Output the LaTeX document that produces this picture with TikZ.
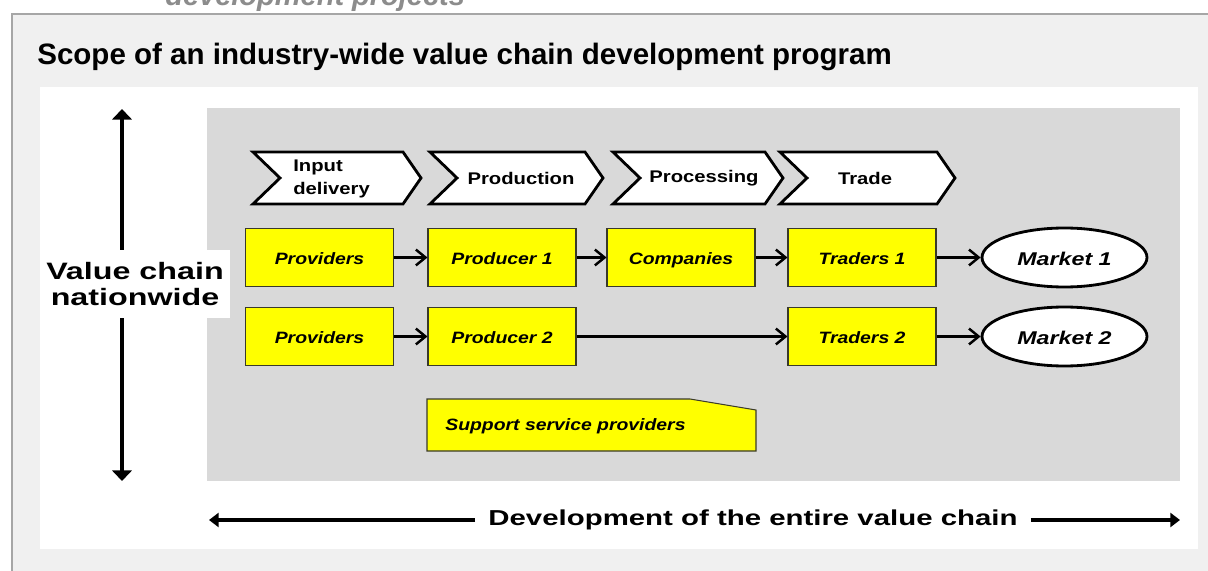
\documentclass[tikz,border=0pt]{standalone}
\usepackage{fontspec}
\setmainfont{Liberation Sans}
\newfontfamily\boxfont[FakeStretch=1.18]{Liberation Sans}
\newfontfamily\mktfont[FakeStretch=1.26]{Liberation Sans}
\newfontfamily\chevfont[FakeStretch=1.2]{Liberation Sans}
\newfontfamily\widefont[FakeStretch=1.36]{Liberation Sans}
\usetikzlibrary{arrows.meta,shapes.geometric}
\definecolor{outerbg}{HTML}{F0F0F0}
\definecolor{panelgray}{HTML}{D9D9D9}
\definecolor{frameline}{HTML}{A6A6A6}
\definecolor{toptext}{HTML}{8C8C8C}
\definecolor{boxyellow}{HTML}{FFFF00}
\definecolor{boxedge}{HTML}{3A3A2A}
\tikzset{
 ybox/.style={draw=boxedge, line width=0.6pt, fill=boxyellow, minimum width=2.96cm, minimum height=1.16cm, inner sep=0pt, text height=8pt, text depth=0pt, font=\boxfont\bfseries\itshape\fontsize{9.35}{11}\selectfont},
 mkt/.style={ellipse, draw=black, line width=1.6pt, fill=white, minimum width=3.3cm, minimum height=1.18cm, inner sep=0pt, text height=8.6pt, text depth=0pt, font=\mktfont\bfseries\itshape\fontsize{10.5}{12}\selectfont},
 chev/.style={draw=black, line width=1.6pt, fill=white, line join=miter},
 chevtext/.style={font=\chevfont\bfseries\fontsize{9.6}{13}\selectfont, inner sep=0pt},
 flow/.style={line width=1.4pt, -{Straight Barb[length=5.5pt, width=9pt, line width=1.4pt]}},
 vaxis/.style={line width=1.8pt, {Triangle[length=6pt, width=11pt]}-{Triangle[length=6pt, width=11pt]}},
 haxis/.style={line width=1.8pt, -{Triangle[length=5.5pt, width=8pt]}},
 vctext/.style={font=\widefont\bfseries\fontsize{13.5}{15.2}\selectfont},
 devtext/.style={font=\widefont\bfseries\fontsize{12.3}{14}\selectfont},
}
\begin{document}
\begin{tikzpicture}[x=0.02cm,y=-0.02cm]
\useasboundingbox (0,0) rectangle (1208,571);
\clip (0,0) rectangle (1208,571);
\fill[white] (0,0) rectangle (1208,571);
\node[anchor=base west, text=toptext, inner sep=0pt, font=\bfseries\itshape\fontsize{16.5}{20}\selectfont] (sub) at (165,6) {development projects};
% frame
\fill[outerbg] (12,14) rectangle (1208,571);
\draw[frameline, line width=0.8pt] (12,571) -- (12,14) -- (1208,14);
\node[anchor=base west, inner sep=0pt, font=\bfseries\fontsize{16.8}{20}\selectfont] (title) at (37,65) {Scope of an industry-wide value chain development program};
% panels
\fill[white] (40,87) rectangle (1198,549);
\fill[panelgray] (207,108) rectangle (1180,481);
% chevrons
\filldraw[chev] (253,152) -- (403,152) -- (421,178) -- (403,204) -- (253,204) -- (280,178) -- cycle;
\filldraw[chev] (430,152) -- (585,152) -- (603,178) -- (585,204) -- (430,204) -- (457,178) -- cycle;
\filldraw[chev] (613,152) -- (765,152) -- (783,178) -- (765,204) -- (613,204) -- (640,178) -- cycle;
\filldraw[chev] (780,152) -- (937,152) -- (955,178) -- (937,204) -- (780,204) -- (807,178) -- cycle;
\node[chevtext, anchor=west, align=left] (c1) at (293,179) {Input\\delivery};
\node[chevtext] (c2) at (521,178) {Production};
\node[chevtext] (c3) at (704,178) {Processing};
\node[chevtext] (c4) at (865,178) {Trade};
% boxes row 1
\node[ybox] (pv1) at (319.5,257.5) {Providers};
\node[ybox] (pd1) at (502,257.5) {Producer 1};
\node[ybox] (co) at (681,257.5) {Companies};
\node[ybox] (tr1) at (862,257.5) {Traders 1};
\node[mkt] (m1) at (1064.5,257.5) {Market 1};
% boxes row 2
\node[ybox] (pv2) at (319.5,336.5) {Providers};
\node[ybox] (pd2) at (502,336.5) {Producer 2};
\node[ybox] (tr2) at (862,336.5) {Traders 2};
\node[mkt] (m2) at (1064.5,336.5) {Market 2};
% flows
\draw[flow] (pv1) -- (pd1);
\draw[flow] (pd1) -- (co);
\draw[flow] (co) -- (tr1);
\draw[flow] (tr1) -- (m1);
\draw[flow] (pv2) -- (pd2);
\draw[flow] (pd2) -- (tr2);
\draw[flow] (tr2) -- (m2);
% support service providers
\filldraw[draw=boxedge, line width=0.6pt, fill=boxyellow] (427,399) -- (690,399) -- (756,410) -- (756,451) -- (427,451) -- cycle;
\node[anchor=west, inner sep=0pt, font=\boxfont\bfseries\itshape\fontsize{9.35}{11}\selectfont] (sup) at (445,426) {Support service providers};
% vertical axis
\coordinate (vtop) at (122,109);
\coordinate (vbot) at (122,481);
\draw[vaxis] (vtop) -- (vbot);
\node[vctext, fill=white, align=center, minimum width=3.8cm, minimum height=1.36cm, inner sep=0pt] (vc) at (135,284) {Value chain\\nationwide};
% horizontal axis
\coordinate (hl) at (209,520);
\coordinate (hr) at (1180,520);
\node[devtext, inner xsep=0.26cm, inner ysep=0pt] (dev) at (753,520) {Development of the entire value chain};
\draw[haxis] (dev.west) -- (hl);
\draw[haxis] (dev.east) -- (hr);
\end{tikzpicture}
\end{document}
